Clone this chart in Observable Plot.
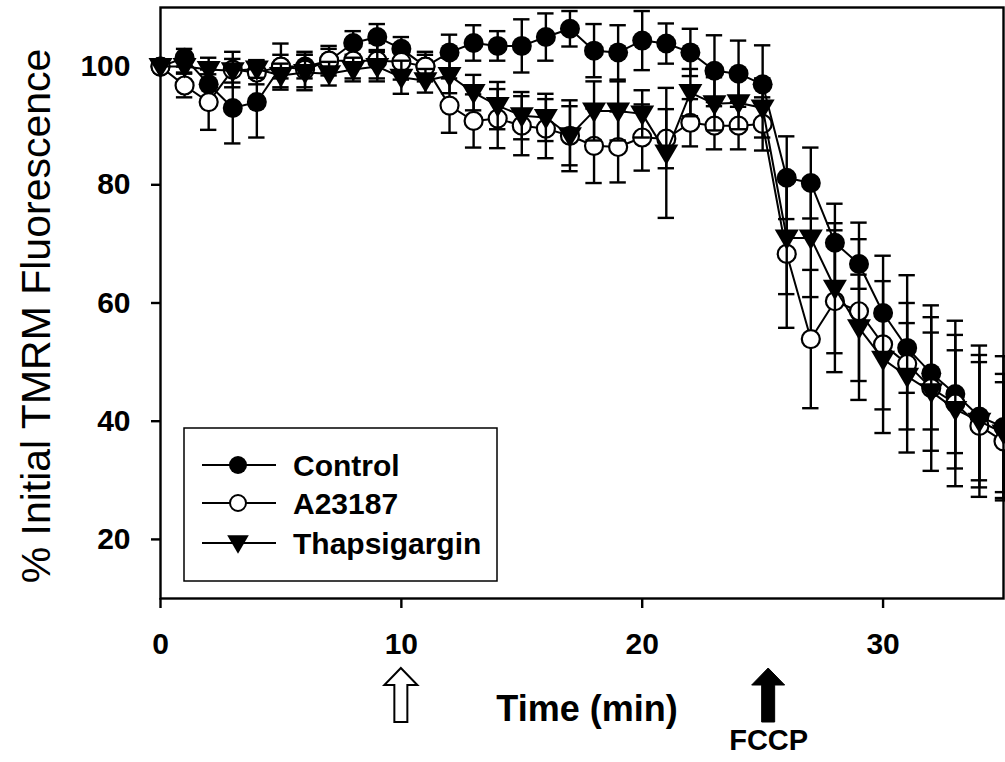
<!DOCTYPE html>
<html>
<head>
<meta charset="utf-8">
<script src="https://cdn.jsdelivr.net/npm/d3@7"></script>
<script src="https://cdn.jsdelivr.net/npm/@observablehq/plot@0.6"></script>
<style>
  html, body { margin: 0; padding: 0; background: #fff; }
  #chart { width: 1005px; height: 762px; }
</style>
</head>
<body>
<div id="chart"></div>
<script>
// ---- data ----
const minutes = [0,1,2,3,4,5,6,7,8,9,10,11,12,13,14,15,16,17,18,19,20,21,22,23,24,25,26,27,28,29,30,31,32,33,34,35];

const controlMean = [100,101.5,97,93,94,100,100,101,104,105,103,100,102.4,104,103.5,103.5,105,106.4,102.7,102.4,104.4,103.9,102.4,99.3,98.8,97,81.2,80.3,70.2,66.6,58.3,52.4,48.1,44.6,40.8,39];
const controlErr  = [0,1.5,2.5,6,6,2,2,2,2,2.2,2,2,3,3,2.5,4.5,4,3,4.5,4.6,5,3.4,4,6,5.6,6.6,7,6,6.6,4.2,5.4,7.6,9.5,10,12,12];

const a23187Mean = [100,96.8,94,99.5,99,100,99.5,101,101,101,100.8,100,93.4,90.8,91.2,90,89.5,88.3,86.6,86.4,88,87.8,90.5,90,90,90.3,68.3,53.9,60.3,58.6,53,49.7,45.6,43,39.2,36.6];
const a23187Err  = [0,2,4.7,3,2,3.9,3,2.5,3,3,3,2.5,4.6,4.5,5,5,5,6,6.3,6,5.6,5,4,4,4,4.5,12.5,11.7,12,15,15,15,14,14,12,10];

const thapsMean = [100,100,99.5,99.3,99.6,98.5,99,98.8,99.5,100,98.2,97.6,98.5,95.6,93.4,91.7,91.4,88.3,92.5,92.5,92,85.4,95.6,93.7,93.9,93,71,71,62.5,55.8,50.5,47.6,45,42,40,38];
const thapsErr  = [0,1,2,2,1.5,2,3,2,2,2.5,2.8,2,3,3,4,4,4,5,5,5,4,11,4,4.5,4.5,5,9.5,10,11,9,8.5,9,10,10,10,10];

const seriesNames = ["Control", "A23187", "Thapsigargin"];
const xTicks = [0, 10, 20, 30];
const yTicks = [20, 40, 60, 80, 100];
const xLabel = "Time (min)";
const yLabel = "% Initial TMRM Fluorescence";
const drugTime = 10;      // open arrow
const fccpTime = 25.25;   // FCCP arrow
const fccpLabel = "FCCP";

// ---- helpers ----
const FONT = "'Liberation Sans', Arial, Helvetica, sans-serif";
const rows = (vals, errs) => minutes.map((t, i) => ({t, v: vals[i], e: errs[i]}));
const control = rows(controlMean, controlErr);
const a23187 = rows(a23187Mean, a23187Err);
const thaps = rows(thapsMean, thapsErr);

const triDown = {
  draw(ctx, size) {
    const s = Math.sqrt(size / Math.PI);
    ctx.moveTo(-1.2 * s, -0.85 * s);
    ctx.lineTo(1.2 * s, -0.85 * s);
    ctx.lineTo(0, 1.2 * s);
    ctx.closePath();
  }
};

const capHalf = 0.34;
function seriesMarks(data, dotOpts) {
  const withErr = data.filter(d => d.e > 0);
  return [
    Plot.line(data, {x: "t", y: "v", stroke: "black", strokeWidth: 2}),
    Plot.ruleX(withErr, {x: "t", y1: d => d.v - d.e, y2: d => d.v + d.e, stroke: "black", strokeWidth: 2.4}),
    Plot.ruleY(withErr, {y: d => d.v + d.e, x1: d => d.t - capHalf, x2: d => d.t + capHalf, stroke: "black", strokeWidth: 2.4}),
    Plot.ruleY(withErr, {y: d => d.v - d.e, x1: d => d.t - capHalf, x2: d => d.t + capHalf, stroke: "black", strokeWidth: 2.4}),
    Plot.dot(data, {x: "t", y: "v", ...dotOpts})
  ];
}

const dotStyles = [
  {r: 10, fill: "black", stroke: "none", symbol: "circle"},
  {r: 9, fill: "white", stroke: "black", strokeWidth: 2.2, symbol: "circle"},
  {r: 10, fill: "black", stroke: "none", symbol: triDown}
];

const plot = Plot.plot({
  width: 1005,
  height: 762,
  marginLeft: 160,
  marginTop: 7,
  marginRight: 2,
  marginBottom: 164,
  style: {fontFamily: FONT, fontSize: "30px", fontWeight: "bold", color: "black", background: "white"},
  x: {domain: [0, 35]},
  y: {domain: [10, 110]},
  marks: [
    Plot.frame({stroke: "black", strokeWidth: 2.4}),
    Plot.axisX({ticks: xTicks, tickSize: 10, tickPadding: 24, label: null, strokeWidth: 2.4}),
    Plot.axisY({ticks: yTicks, tickSize: 9, tickPadding: 21, label: null, strokeWidth: 2.4}),
    ...seriesMarks(control, dotStyles[0]),
    ...seriesMarks(a23187, dotStyles[1]),
    ...seriesMarks(thaps, dotStyles[2]),
    Plot.text([yLabel], {frameAnchor: "left", textAnchor: "middle", text: d => d, rotate: -90, dx: -124, dy: 13, fontSize: 41, fontWeight: "normal"}),
    Plot.text([xLabel], {frameAnchor: "bottom", textAnchor: "middle", text: d => d, dx: 5, dy: 122, fontSize: 36, fontWeight: "bold"}),
    Plot.text([fccpTime], {x: d => d, frameAnchor: "bottom", textAnchor: "middle", text: () => fccpLabel, dy: 151, fontSize: 29, fontWeight: "bold"})
  ]
});

document.getElementById("chart").appendChild(plot);

// ---- annotations: arrows and legend, positioned via the plot's own scales ----
const sx = plot.scale("x"), sy = plot.scale("y");
const svg = d3.select(plot);
const base = sy.apply(10);   // frame bottom
const left = sx.apply(0);    // frame left

function arrowPath(cx) {
  const top = base + 70, headBase = base + 87, bottom = base + 124, hw = 16.5, sw = 6.5;
  return `M${cx},${top}L${cx + hw},${headBase}L${cx + sw},${headBase}L${cx + sw},${bottom}L${cx - sw},${bottom}L${cx - sw},${headBase}L${cx - hw},${headBase}Z`;
}
svg.append("path").attr("d", arrowPath(sx.apply(drugTime))).attr("fill", "white").attr("stroke", "black").attr("stroke-width", 2);
svg.append("path").attr("d", arrowPath(sx.apply(fccpTime))).attr("fill", "black").attr("stroke", "black").attr("stroke-width", 1);

// legend
const lg = svg.append("g");
lg.append("rect")
  .attr("x", left + 24).attr("y", base - 170)
  .attr("width", 313).attr("height", 153)
  .attr("fill", "white").attr("stroke", "black").attr("stroke-width", 1.5);
const rowY = [base - 133, base - 95, base - 55];
seriesNames.forEach((name, i) => {
  const y = rowY[i];
  const cx = left + 78;
  lg.append("line").attr("x1", left + 42).attr("x2", left + 116).attr("y1", y).attr("y2", y)
    .attr("stroke", "black").attr("stroke-width", 2);
  if (i === 0) {
    lg.append("circle").attr("cx", cx).attr("cy", y).attr("r", 9).attr("fill", "black");
  } else if (i === 1) {
    lg.append("circle").attr("cx", cx).attr("cy", y).attr("r", 8).attr("fill", "white").attr("stroke", "black").attr("stroke-width", 2);
  } else {
    lg.append("path").attr("transform", `translate(${cx},${y})`)
      .attr("d", d3.symbol(triDown, Math.PI * 81)()).attr("fill", "black");
  }
  lg.append("text").attr("x", left + 133).attr("y", y).attr("dy", "0.35em")
    .attr("text-anchor", "start")
    .attr("font-family", FONT).attr("font-size", 30).attr("font-weight", "bold")
    .attr("fill", "black").text(name);
});
</script>
</body>
</html>
